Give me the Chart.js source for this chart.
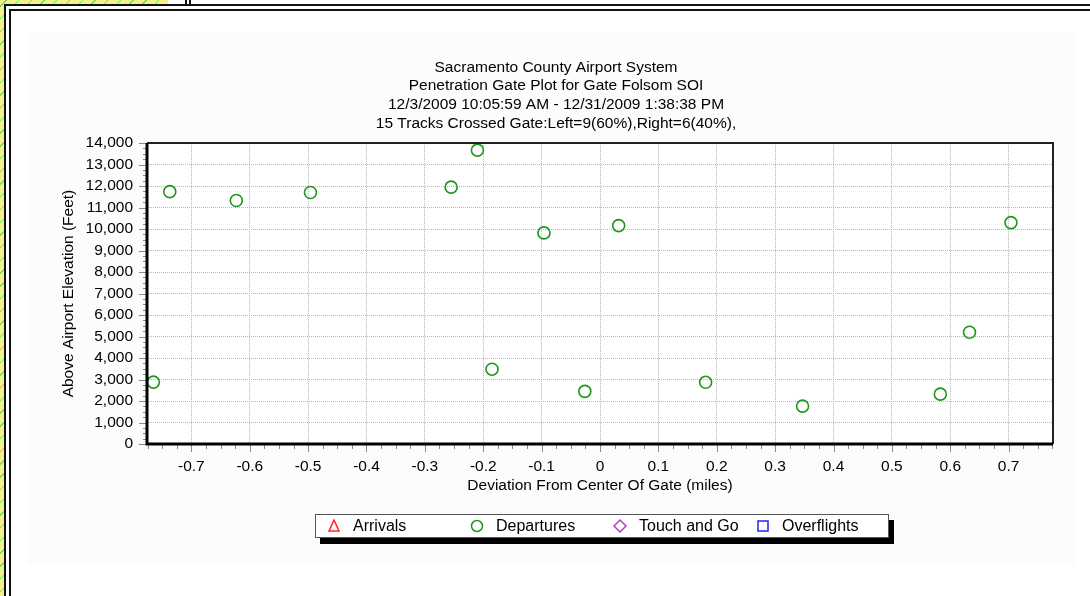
<!DOCTYPE html>
<html>
<head>
<meta charset="utf-8">
<script src="https://cdn.jsdelivr.net/npm/chart.js@4/dist/chart.umd.min.js"></script>
<style>
  html, body { margin: 0; padding: 0; background: #fff; }
  body { width: 1090px; height: 596px; position: relative; overflow: hidden; }
  .hatch { position: absolute; background: #f4f08c;
    background-image: repeating-linear-gradient(135deg, #f4f08c 0 4px, #6ee05a 4px 5px, #f4f08c 5px 9px); }
  .line { position: absolute; background: #111; }
  #panel { position: absolute; left: 27px; top: 32px; width: 1048px; height: 533px; background: #fcfcfc; }
  canvas { position: absolute; left: 0; top: 0; }
</style>
</head>
<body>
<div class="hatch" style="left:0;top:0;width:4px;height:596px"></div>
<div class="hatch" style="left:0;top:0;width:168px;height:4px"></div>
<div class="line" style="left:4px;top:4px;width:2px;height:592px"></div>
<div class="line" style="left:9px;top:9px;width:2px;height:587px"></div>
<div class="line" style="left:4px;top:4px;width:1086px;height:2px"></div>
<div class="line" style="left:9px;top:9px;width:1081px;height:2px"></div>
<div class="line" style="left:185px;top:0;width:2px;height:6px"></div>
<div class="line" style="left:189px;top:0;width:2px;height:6px"></div>
<div id="panel"></div>
<canvas id="myChart" width="1090" height="596"></canvas>
<script>
// values
const titleLines = [
  'Sacramento County Airport System',
  'Penetration Gate Plot for Gate Folsom SOI',
  '12/3/2009 10:05:59 AM - 12/31/2009 1:38:38 PM',
  '15 Tracks Crossed Gate:Left=9(60%),Right=6(40%),'
];
const xTicks = [-0.7, -0.6, -0.5, -0.4, -0.3, -0.2, -0.1, 0, 0.1, 0.2, 0.3, 0.4, 0.5, 0.6, 0.7];
const yTicks = [0, 1000, 2000, 3000, 4000, 5000, 6000, 7000, 8000, 9000, 10000, 11000, 12000, 13000, 14000];
const departuresX = [-0.765, -0.737, -0.623, -0.496, -0.255, -0.210, -0.185, -0.096, -0.026, 0.032, 0.181, 0.347, 0.583, 0.633, 0.704];
const departuresY = [2880, 11740, 11330, 11700, 11950, 13670, 3480, 9820, 2450, 10160, 2870, 1760, 2320, 5200, 10300];
const arrivals = [];
const touchAndGo = [];
const overflights = [];

const FONT = '"Liberation Sans", Arial, sans-serif';
const FSIZE = 15.5;
const GREEN = 'rgb(30,150,30)';

const toPoints = (xs, ys) => xs.map((x, i) => ({ x: x, y: ys[i] }));

// white plot area + frame + minor ticks
const framePlugin = {
  id: 'frame',
  beforeDraw(chart) {
    const { ctx, chartArea: a } = chart;
    ctx.save();
    ctx.fillStyle = '#fff';
    ctx.fillRect(a.left, a.top, a.right - a.left, a.bottom - a.top);
    ctx.restore();
  },
  afterDatasetsDraw(chart) {
    const { ctx, chartArea: a, scales } = chart;
    ctx.save();
    ctx.strokeStyle = '#888';
    ctx.lineWidth = 1;
    // x axis ticks every 0.025
    for (let i = -31; i <= 31; i++) {
      const v = i * 0.025;
      const px = Math.round(scales.x.getPixelForValue(v)) + 0.5;
      const len = i % 4 === 0 ? 8 : 5;
      ctx.beginPath();
      ctx.moveTo(px, a.bottom);
      ctx.lineTo(px, a.bottom + len);
      ctx.stroke();
    }
    // y axis ticks every 250
    for (let v = 0; v <= 14000; v += 250) {
      const py = Math.round(scales.y.getPixelForValue(v)) + 0.5;
      const len = v % 1000 === 0 ? 8 : 4;
      ctx.beginPath();
      ctx.moveTo(a.left, py);
      ctx.lineTo(a.left - len, py);
      ctx.stroke();
    }
    // frame
    ctx.strokeStyle = '#222';
    ctx.lineWidth = 2;
    ctx.beginPath();
    ctx.moveTo(a.left, a.top);
    ctx.lineTo(a.right, a.top);
    ctx.lineTo(a.right, a.bottom);
    ctx.stroke();
    ctx.strokeStyle = '#000';
    ctx.lineWidth = 3;
    ctx.beginPath();
    ctx.moveTo(a.left, a.top);
    ctx.lineTo(a.left, a.bottom);
    ctx.lineTo(a.right, a.bottom);
    ctx.stroke();
    ctx.restore();
  }
};

// boxed legend with drop shadow
const legendPlugin = {
  id: 'boxLegend',
  afterDraw(chart) {
    const ctx = chart.ctx;
    const x0 = 315, y0 = 514, w = 574, h = 24;
    ctx.save();
    ctx.fillStyle = '#000';
    ctx.fillRect(x0 + 5, y0 + 6, w, h);
    ctx.fillStyle = '#fff';
    ctx.fillRect(x0, y0, w, h);
    ctx.strokeStyle = '#555';
    ctx.lineWidth = 1;
    ctx.strokeRect(x0 + 0.5, y0 + 0.5, w - 1, h - 1);
    const cy = y0 + h / 2;
    chart.data.datasets.forEach((ds, i) => {
      const mx = 334 + i * 143;
      ctx.strokeStyle = ds.borderColor;
      ctx.lineWidth = 1.5;
      ctx.beginPath();
      if (ds.pointStyle === 'triangle') {
        ctx.moveTo(mx, cy - 6);
        ctx.lineTo(mx + 5, cy + 5);
        ctx.lineTo(mx - 5, cy + 5);
        ctx.closePath();
      } else if (ds.pointStyle === 'circle') {
        ctx.arc(mx, cy, 5.5, 0, Math.PI * 2);
      } else if (ds.pointStyle === 'rectRot') {
        ctx.moveTo(mx, cy - 6);
        ctx.lineTo(mx + 6, cy);
        ctx.lineTo(mx, cy + 6);
        ctx.lineTo(mx - 6, cy);
        ctx.closePath();
      } else {
        ctx.rect(mx - 5, cy - 5, 10, 10);
      }
      ctx.stroke();
      ctx.fillStyle = '#000';
      ctx.font = '16px ' + FONT;
      ctx.textBaseline = 'middle';
      ctx.fillText(ds.label, mx + 19, cy + 1);
    });
    ctx.restore();
  }
};

const ctx = document.getElementById('myChart').getContext('2d');
const myChart = new Chart(ctx, {
  type: 'scatter',
  data: {
    datasets: [
      { label: 'Arrivals', data: arrivals, pointStyle: 'triangle', borderColor: '#ff2020', backgroundColor: 'transparent' },
      { label: 'Departures', data: toPoints(departuresX, departuresY), pointStyle: 'circle',
        pointRadius: 6, borderWidth: 1.6, borderColor: GREEN, backgroundColor: 'transparent' },
      { label: 'Touch and Go', data: touchAndGo, pointStyle: 'rectRot', borderColor: '#b040c0', backgroundColor: 'transparent' },
      { label: 'Overflights', data: overflights, pointStyle: 'rect', borderColor: '#2020ff', backgroundColor: 'transparent' }
    ]
  },
  options: {
    responsive: false,
    animation: false,
    layout: { padding: { left: 59, right: 37, top: 0, bottom: 101 } },
    plugins: {
      legend: { display: false },
      tooltip: { enabled: false },
      title: {
        display: true,
        text: titleLines,
        color: '#000',
        font: { family: FONT, size: FSIZE, weight: 'normal', lineHeight: 1.206 },
        padding: { top: 58, bottom: 10.3 }
      }
    },
    scales: {
      x: {
        type: 'linear',
        min: -0.776,
        max: 0.776,
        afterBuildTicks: (s) => { s.ticks = xTicks.map(v => ({ value: v })); },
        afterFit: (s) => { s.height = 51; },
        grid: { color: '#b8b8b8', lineWidth: 1, drawTicks: false },
        border: { display: false, dash: [1, 1] },
        ticks: {
          autoSkip: false,
          maxRotation: 0,
          padding: 13,
          color: '#000',
          font: { family: FONT, size: FSIZE },
          callback: (v) => Number(Number(v).toFixed(1)).toString()
        },
        title: {
          display: true,
          text: 'Deviation From Center Of Gate (miles)',
          color: '#000',
          font: { family: FONT, size: FSIZE },
          padding: 0
        }
      },
      y: {
        min: 0,
        max: 14000,
        afterBuildTicks: (s) => { s.ticks = yTicks.map(v => ({ value: v })); },
        afterFit: (s) => { s.width = 88; },
        grid: { color: '#b8b8b8', lineWidth: 1, drawTicks: false },
        border: { display: false, dash: [1, 1] },
        ticks: {
          autoSkip: false,
          padding: 14,
          color: '#000',
          font: { family: FONT, size: FSIZE },
          callback: (v) => Number(v).toLocaleString('en-US')
        },
        title: {
          display: true,
          text: 'Above Airport Elevation (Feet)',
          color: '#000',
          font: { family: FONT, size: FSIZE },
          padding: 0
        }
      }
    }
  },
  plugins: [framePlugin, legendPlugin]
});
</script>
</body>
</html>
